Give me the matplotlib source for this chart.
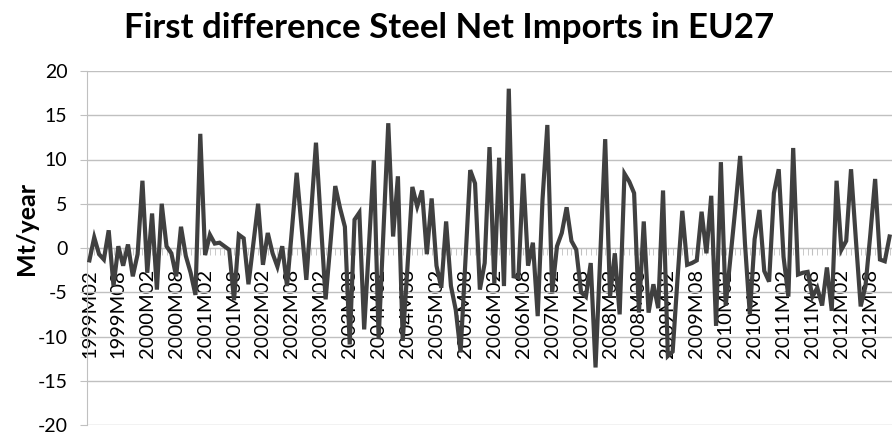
import matplotlib
matplotlib.use("Agg")
import matplotlib.pyplot as plt
from matplotlib.ticker import FixedLocator, MultipleLocator

plt.rcParams['font.family'] = ['Lato', 'DejaVu Sans']

title = "First difference Steel Net Imports in EU27"
ylabel = "Mt/year"

start_year, start_month = 1999, 2
values = [
    -1.4, 1.2, -0.7, -1.3, 2.0, -4.3, 0.2, -2.0, 0.4, -3.2,
    -0.7, 7.6, -2.8, 3.9, -4.7, 5.0, 0.2, -0.6, -3.2, 2.4,
    -0.9, -2.8, -5.3, 12.9, -0.8, 1.5, 0.5, 0.6, 0.2, -0.2,
    -5.9, 1.5, 1.1, -4.1, 0.5, 5.0, -1.9, 1.7, -0.6, -2.1,
    0.2, -4.3, 2.0, 8.5, 2.5, -3.6, 4.0, 11.9, 3.0, -5.8,
    0.5, 7.0, 4.5, 2.4, -10.9, 3.2, 4.0, -9.2, 0.4, 9.9,
    -10.3, 2.0, 14.1, 1.3, 8.1, -10.5, -2.0, 6.9, 4.7, 6.5,
    -0.7, 5.6, -2.0, -4.5, 3.0, -4.3, -7.0, -11.8, -1.5, 8.8,
    7.3, -4.7, -1.7, 11.4, -4.0, 10.2, -4.3, 18.0, -3.2, -3.3,
    8.4, -2.0, 0.6, -7.7, 5.5, 13.9, -5.0, 0.2, 1.7, 4.6,
    0.8, -0.2, -5.0, -5.5, -1.7, -13.5, -0.5, 12.3, -5.5, -0.6,
    -7.5, 8.4, 7.5, 6.2, -7.3, 3.0, -7.3, -4.1, -6.8, 6.5,
    -12.2, -11.7, -3.5, 4.2, -1.9, -1.7, -1.4, 4.1, -0.6, 5.9,
    -8.8, 9.7, -6.5, -1.0, 4.5, 10.4, 0.5, -7.5, 1.0, 4.3,
    -2.6, -3.8, 6.2, 8.9, -1.0, -5.5, 11.3, -3.0, -2.8, -2.7,
    -5.5, -4.5, -6.5, -2.2, -7.1, 7.6, -0.2, 0.8, 8.9, 1.0,
    -6.6, -4.3, 1.5, 7.8, -1.3, -1.5, 1.3,
]

categories = []
for k in range(len(values)):
    m = start_month - 1 + k
    categories.append(f"{start_year + m // 12}M{m % 12 + 1:02d}")

yticks = [-20, -15, -10, -5, 0, 5, 10, 15, 20]

fig = plt.figure(figsize=(8.92, 4.34), dpi=100)
ax = fig.add_axes([87/892, 9/434, 1 - 87/892, 354/434])

x = list(range(len(values)))
ax.plot(x, values, color='#404040', lw=3.0, zorder=4, solid_joinstyle='miter')

ax.set_xlim(-0.5, len(values) - 0.5)
ax.set_ylim(-20, 20)
ax.set_yticks(yticks)
ax.set_yticklabels([str(v) for v in yticks])
ax.grid(axis='y', color='#c0c0c0', lw=1.0)
ax.set_axisbelow(True)

for s in ['top', 'right']:
    ax.spines[s].set_visible(False)
ax.spines['left'].set_color('#c0c0c0')
ax.spines['bottom'].set_position(('data', 0))
ax.spines['bottom'].set_color('#c0c0c0')

major = list(range(0, len(values), 6))
ax.xaxis.set_major_locator(FixedLocator(major))
ax.set_xticklabels([categories[i] for i in major], rotation=90, va='top', ha='center')
ax.xaxis.set_minor_locator(MultipleLocator(1))
ax.tick_params(axis='x', which='both', length=5, color='#c0c0c0', direction='out')
ax.tick_params(axis='x', which='major', labelsize=14.5, pad=10, labelcolor='black')
ax.tick_params(axis='y', length=5, color='#c0c0c0', labelsize=14, pad=9)

ax.set_ylabel(ylabel, fontsize=18, fontweight='bold')
ax.yaxis.set_label_coords(-0.061, 0.555)

fig.text(0.503, 0.935, title, ha='center', va='center', fontsize=25, fontweight='bold')

fig.savefig('out.png', dpi=100)
